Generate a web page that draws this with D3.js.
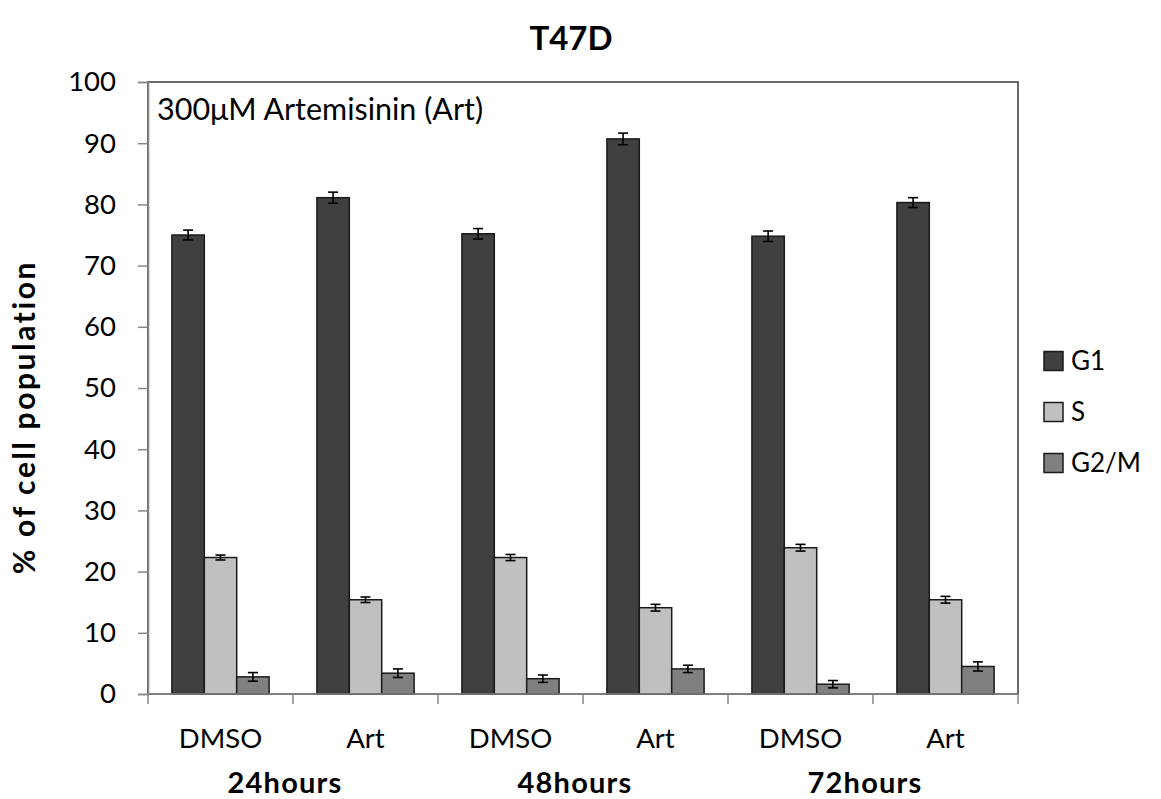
<!DOCTYPE html>
<html>
<head>
<meta charset="utf-8">
<script src="https://cdn.jsdelivr.net/npm/d3@7"></script>
<style>
  html, body { margin: 0; padding: 0; background: #fff; }
  svg { display: block; font-family: Lato, "Open Sans", sans-serif; }
</style>
</head>
<body>
<svg id="chart" width="1161" height="799"></svg>
<script>
// Treatments along the x axis, and the time point each pair belongs to
const categories = ["DMSO 24", "Art 24", "DMSO 48", "Art 48", "DMSO 72", "Art 72"];
const categoryLabels = ["DMSO", "Art", "DMSO", "Art", "DMSO", "Art"];
const timeLabels = ["24hours", "48hours", "72hours"];

// Cell-cycle phases
const series = ["G1", "S", "G2/M"];
const seriesColors = ["#404040", "#c0c0c0", "#808080"];

// Percentage of cells in each phase (mean) and error
const g1Values  = [75.0, 81.1, 75.2, 90.7, 74.8, 80.3];
const g1Errors  = [0.8, 0.9, 0.85, 0.95, 0.85, 0.8];
const sValues   = [22.3, 15.4, 22.3, 14.1, 23.9, 15.4];
const sErrors   = [0.4, 0.45, 0.5, 0.55, 0.55, 0.55];
const g2mValues = [2.8, 3.4, 2.5, 4.1, 1.6, 4.5];
const g2mErrors = [0.7, 0.7, 0.6, 0.6, 0.6, 0.75];

const yTicks = [0, 10, 20, 30, 40, 50, 60, 70, 80, 90, 100];

const valuesBySeries = [g1Values, sValues, g2mValues];
const errorsBySeries = [g1Errors, sErrors, g2mErrors];

const data = categories.map((c, i) => ({
  category: c,
  bars: series.map((s, k) => ({
    series: s, color: seriesColors[k],
    value: valuesBySeries[k][i], err: errorsBySeries[k][i]
  }))
}));

const svg = d3.select("#chart");
const plot = { left: 148, right: 1018, top: 82, bottom: 694 };

const x0 = d3.scaleBand().domain(categories).range([plot.left, plot.right]).padding(0);
const x1 = d3.scaleBand().domain(series).range([0, x0.bandwidth()])
  .paddingInner(0).paddingOuter(0.738);
const y = d3.scaleLinear().domain([0, 100]).range([plot.bottom, plot.top]);

// Plot area frame
svg.append("rect")
  .attr("x", plot.left).attr("y", plot.top)
  .attr("width", plot.right - plot.left).attr("height", plot.bottom - plot.top)
  .attr("fill", "none").attr("stroke", "#3a3a3a").attr("stroke-width", 1.5);

// Bars
const groups = svg.append("g").selectAll("g").data(data).join("g")
  .attr("transform", d => `translate(${x0(d.category)},0)`);

groups.selectAll("rect").data(d => d.bars).join("rect")
  .attr("x", d => x1(d.series))
  .attr("y", d => y(d.value))
  .attr("width", x1.bandwidth())
  .attr("height", d => y(0) - y(d.value))
  .attr("fill", d => d.color)
  .attr("stroke", "#1a1a1a")
  .attr("stroke-width", 1.5);

// Error bars
const eb = groups.selectAll("g.err").data(d => d.bars).join("g").attr("class", "err")
  .attr("transform", d => `translate(${x1(d.series) + x1.bandwidth() / 2},0)`);
eb.append("line")
  .attr("x1", 0).attr("x2", 0)
  .attr("y1", d => y(d.value + d.err)).attr("y2", d => y(d.value - d.err));
eb.append("line")
  .attr("x1", -5).attr("x2", 5)
  .attr("y1", d => y(d.value + d.err)).attr("y2", d => y(d.value + d.err));
eb.append("line")
  .attr("x1", -5).attr("x2", 5)
  .attr("y1", d => y(d.value - d.err)).attr("y2", d => y(d.value - d.err));
eb.selectAll("line").attr("stroke", "#000").attr("stroke-width", 1.6);

// Y axis
const yAxis = svg.append("g")
  .attr("transform", `translate(${plot.left},0)`)
  .call(d3.axisLeft(y).tickValues(yTicks).tickSize(10).tickPadding(22).tickFormat(d3.format("d")));
yAxis.select(".domain").attr("stroke", "#868686").attr("stroke-width", 1.5);
yAxis.selectAll(".tick line").attr("stroke", "#868686").attr("stroke-width", 1.5);
yAxis.selectAll(".tick text")
  .attr("fill", "#000").style("font-size", "27.5px").style("font-family", "Lato, sans-serif");

// X axis: tick marks at category boundaries
const xAxisG = svg.append("g");
xAxisG.append("line")
  .attr("x1", plot.left).attr("x2", plot.right)
  .attr("y1", y(0)).attr("y2", y(0))
  .attr("stroke", "#868686").attr("stroke-width", 1.5);
const boundaries = categories.map(c => x0(c)).concat([x0.range()[1]]);
xAxisG.selectAll("line.tick").data(boundaries).join("line").attr("class", "tick")
  .attr("x1", d => d).attr("x2", d => d)
  .attr("y1", y(0)).attr("y2", y(0) + 10)
  .attr("stroke", "#868686").attr("stroke-width", 1.5);

// Treatment labels
xAxisG.selectAll("text.cat").data(categories).join("text").attr("class", "cat")
  .attr("x", d => x0(d) + x0.bandwidth() / 2)
  .attr("y", 748)
  .attr("text-anchor", "middle")
  .style("font-size", "27.5px")
  .text((d, i) => categoryLabels[i]);

// Time point labels, centered under each DMSO/Art pair
xAxisG.selectAll("text.time").data(timeLabels).join("text").attr("class", "time")
  .attr("x", (d, i) => x0(categories[2 * i + 1]) - 8)
  .attr("y", 793)
  .attr("text-anchor", "middle")
  .style("font-size", "29px")
  .style("letter-spacing", "1.2px")
  .style("font-weight", "bold")
  .text(d => d);

// Title
svg.append("text")
  .attr("x", 571).attr("y", 50)
  .attr("text-anchor", "middle")
  .style("font-size", "33px").style("font-weight", "bold")
  .text("T47D");

// Y axis title
svg.append("text")
  .attr("transform", "translate(35,417) rotate(-90)")
  .attr("text-anchor", "middle")
  .style("font-size", "30px").style("font-weight", "bold")
  .style("letter-spacing", "2.6px")
  .text("% of cell population");

// Treatment note inside the plot
svg.append("text")
  .attr("x", 157).attr("y", 120)
  .style("font-size", "30.5px")
  .text("300μM Artemisinin (Art)");

// Legend
const legend = svg.append("g").selectAll("g").data(series).join("g")
  .attr("transform", (d, i) => `translate(1044,${361 + i * 51})`);
legend.append("rect")
  .attr("x", 0).attr("y", -9.5).attr("width", 19).attr("height", 19)
  .attr("fill", (d, i) => seriesColors[i])
  .attr("stroke", "#1a1a1a").attr("stroke-width", 1.5);
legend.append("text")
  .attr("x", 27).attr("y", 0).attr("dy", "0.35em")
  .style("font-size", "26px")
  .text(d => d);
</script>
</body>
</html>
